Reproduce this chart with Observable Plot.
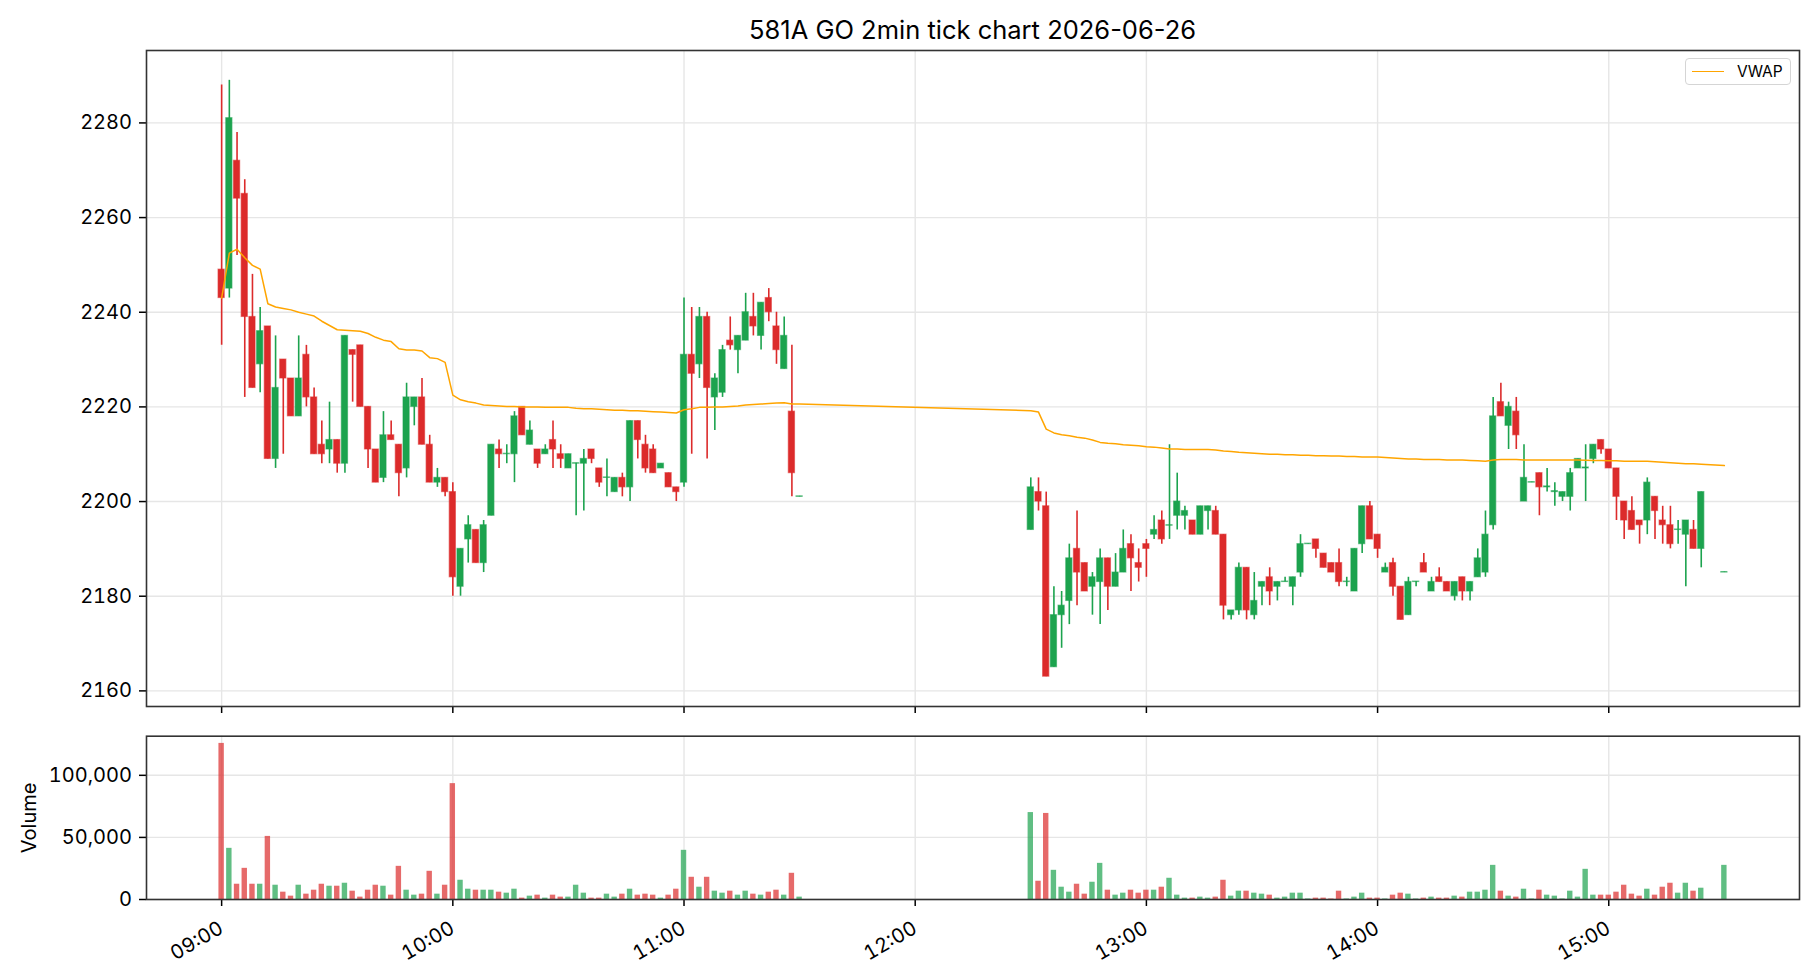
<!DOCTYPE html>
<html><head><meta charset="utf-8">
<script src="https://cdn.jsdelivr.net/npm/d3@7"></script>
<script src="https://cdn.jsdelivr.net/npm/@observablehq/plot@0.6"></script>
<style>
body{margin:0;background:#fff;}
#wrap{position:relative;width:1820px;height:980px;font-family:Inter,"Noto Sans",sans-serif;color:#000;}
#title{position:absolute;left:146px;width:1653px;top:15px;line-height:30px;text-align:center;font-size:25.5px;z-index:2;}
#main{position:absolute;left:0;top:0;}
#vol{position:absolute;left:0;top:720px;}
#legend{position:absolute;left:1685px;top:58px;width:106px;height:27px;box-sizing:border-box;border:1.3px solid #d5d5d5;border-radius:4px;background:rgba(255,255,255,0.85);z-index:2;}
#legend .ln{position:absolute;left:6px;top:12px;width:32px;height:0;border-top:1.6px solid #ffa500;}
#legend .tx{position:absolute;left:51px;top:0;line-height:25px;font-size:15.5px;}
</style></head>
<body>
<div id="wrap">
  <div id="title">581A GO 2min tick chart 2026-06-26</div>
  <div id="main"></div>
  <div id="vol"></div>
  <div id="legend"><div class="ln"></div><div class="tx">VWAP</div></div>
</div>
<script>
// ---- data ----
const times = [
"09:00","09:02","09:04","09:06","09:08","09:10","09:12","09:14","09:16","09:18","09:20","09:22","09:24","09:26","09:28","09:30","09:32","09:34","09:36","09:38","09:40","09:42","09:44","09:46","09:48","09:50","09:52","09:54","09:56","09:58",
"10:00","10:02","10:04","10:06","10:08","10:10","10:12","10:14","10:16","10:18","10:20","10:22","10:24","10:26","10:28","10:30","10:32","10:34","10:36","10:38","10:40","10:42","10:44","10:46","10:48","10:50","10:52","10:54","10:56","10:58",
"11:00","11:02","11:04","11:06","11:08","11:10","11:12","11:14","11:16","11:18","11:20","11:22","11:24","11:26","11:28","11:30",
"12:30","12:32","12:34","12:36","12:38","12:40","12:42","12:44","12:46","12:48","12:50","12:52","12:54","12:56","12:58",
"13:00","13:02","13:04","13:06","13:08","13:10","13:12","13:14","13:16","13:18","13:20","13:22","13:24","13:26","13:28","13:30","13:32","13:34","13:36","13:38","13:40","13:42","13:44","13:46","13:48","13:50","13:52","13:54","13:56","13:58",
"14:00","14:02","14:04","14:06","14:08","14:10","14:12","14:14","14:16","14:18","14:20","14:22","14:24","14:26","14:28","14:30","14:32","14:34","14:36","14:38","14:40","14:42","14:44","14:46","14:48","14:50","14:52","14:54","14:56","14:58",
"15:00","15:02","15:04","15:06","15:08","15:10","15:12","15:14","15:16","15:18","15:20","15:22","15:24","15:30"];

const open = [
2249,2245,2272,2265,2239,2229,2237,2209,2230,2226,2218,2231,2222,2212,2211,2213,2208,2232,2233,2220,2211,2205,2214,2212,2207,2220,2222,2212,2204,2205,
2202,2182,2192,2194,2187,2197,2211,2210,2210,2220,2212,2211,2210,2213,2210,2207,2208,2208,2211,2207,2205,2202,2205,2203,2217,2212,2211,2207,2206,2203,
2204,2231,2229,2239,2222,2223,2234,2232,2234,2239,2235,2243,2237,2228,2219,2201,
2194,2202,2199,2165,2176,2179,2190,2187,2182,2183,2188,2182,2185,2191,2187,
2191,2193,2196,2194.9,2197,2197,2196,2193,2198,2198,2193,2176,2177,2186,2176,2182,2184,2182,2183,2182,2185,2191,2192,2189,2187,2187,2183,2181,2191,2199,
2193,2185,2187,2182,2176,2183,2187,2181,2184,2183,2180,2184,2181,2184,2185,2195,2221,2216,2219,2200,2204,2206,2203,2202,2201,2201,2207,2207,2209,2213,
2211,2207,2200,2198,2196,2196,2201,2196,2195,2194,2193,2194,2190,2185];

const high = [
2288,2289,2278,2268,2248,2241,2237,2235,2230,2226,2235,2233,2224,2217,2221,2213,2235,2232,2233,2220,2211,2219,2217,2212,2225,2222,2226,2214,2207,2205,
2204,2190,2197,2194,2196,2212,2213,2212,2219,2220,2217,2211,2212,2217,2212,2210,2208.1,2211,2211,2207,2209,2205,2206,2217,2217,2214,2212,2208,2206,2203,
2243,2241,2241,2240,2227,2233,2239,2235,2244,2244,2242,2245,2240,2239,2233,2201.1,
2205,2205,2202,2182,2181,2191,2198,2187,2185,2190,2188,2189,2194,2193,2190,
2192,2197,2198,2212,2206,2199,2196,2199,2199,2199,2193,2177,2187,2186,2185,2183,2186,2183,2184,2184,2193,2191.1,2192,2189,2187,2190,2184,2190,2199,2200,
2193,2187,2188,2182,2184,2183.1,2189,2184,2186,2183,2183,2184,2183,2190,2198,2222,2225,2221,2222,2212,2204.1,2206,2207,2204,2202,2207,2209,2212,2212,2213,
2211,2207,2200,2201,2196,2205,2201,2199,2199,2196,2196,2196,2202,2185.1];

const low = [
2233,2243,2252,2222,2224,2223,2209,2207,2210,2218,2218,2220,2210,2208,2208,2206,2206,2221,2220,2207,2204,2204,2213,2201,2205,2216,2212,2204,2203,2201,
2180,2180,2187,2187,2185,2197,2207,2208,2204,2214,2212,2207,2210,2207,2207,2207,2197,2198,2208,2203,2201,2202,2201,2200,2209,2206,2206,2207,2203,2200,
2203,2210,2226,2209,2215,2222,2232,2227,2234,2235,2232,2238,2229,2228,2201,2201,
2194,2198,2163,2165,2169,2174,2178,2181,2176,2174,2177,2182,2185,2181,2183,
2184,2192,2191,2192,2194,2194,2193,2193,2194,2193,2175,2175,2176,2175,2175,2178,2178,2179,2183,2178,2184,2191,2188,2186,2185,2182,2182,2181,2189,2192,
2188,2185,2180,2175,2176,2182,2185,2181,2183,2181,2179,2179,2179,2184,2184,2194,2218,2211,2211,2200,2204,2197,2202,2199,2200,2198,2207,2200,2208,2210,
2207,2196,2192,2194,2191,2193,2192,2191,2190,2191,2182,2190,2186,2185];

const close = [
2243,2281,2264,2239,2224,2236,2209,2224,2226,2218,2226,2222,2210,2210,2213,2208,2235,2231,2220,2211,2204,2214,2213,2206,2222,2222,2212,2204,2205,2202,
2184,2190,2195,2187,2195,2212,2210,2210.1,2218,2214,2215,2208,2211,2211,2209,2210,2208.1,2209,2209,2204,2205.1,2205,2203,2217,2213,2207,2206,2208,2203,2202,
2231,2227,2239,2224,2226,2232,2233,2235,2240,2237,2242,2240,2232,2235,2206,2201.1,
2203,2200,2163,2176,2178,2188,2185,2181,2184,2188,2182,2185,2190,2188,2186,
2190,2194,2192,2195,2200,2198,2193,2199,2199,2193,2178,2177,2186,2177,2179,2183,2181,2183,2183.1,2184,2191,2191.1,2190,2186,2185,2183,2183.1,2190,2199,2192,
2190,2186,2182,2175,2183,2183.1,2185,2183,2183,2181,2183,2181,2183,2188,2193,2218,2218,2220,2214,2205,2204.1,2203,2203.2,2202.2,2202,2206,2209,2207.2,2212,2211,
2207,2201,2196,2194,2195,2204,2198,2195,2191,2194.1,2196,2190,2202,2185.1];

const volume = [
125700,41200,12300,25100,12300,12300,50800,11500,5900,2700,11500,4300,7500,12300,10700,10700,13100,6700,1900,7500,11500,10700,3500,26700,7500,3500,4300,22700,4300,11500,
93300,15500,8300,7500,7500,7500,5900,5100,8300,1100,2700,3500,1100,3500,1900,1900,11500,5100,1100,1100,4300,1900,4300,8300,3500,4300,3500,1100,3500,8300,
39600,17900,9900,17900,6700,5100,6700,3500,6700,4300,3500,5900,7500,3500,21100,1900,
70000,14700,69300,23500,9900,5900,12300,4300,13900,29100,7500,3500,5100,7500,5100,
7500,7500,9900,17100,3500,1100,1100,1900,1100,1900,15500,2700,6700,6700,5100,4300,3500,1100,1900,5100,5100,400,1100,1100,400,6700,400,1900,5100,1100,
1100,400,3500,5100,4300,400,1100,1900,1100,1100,2700,1900,5900,5900,7500,27500,6700,2700,1900,8300,400,7500,3500,2700,400,6700,1900,24300,3500,3500,
3500,5900,11500,4300,2700,8300,3500,9900,13100,5100,13100,6700,9100,27500];

const vwap = [
2243.0,2252.5,2253.3,2251.5,2249.9,2249.1,2241.8,2241.1,2240.8,2240.5,2240.0,2239.6,2239.2,2238.1,2237.2,2236.3,2236.2,2236.1,2236.0,2235.5,2234.7,2234.1,2233.8,2232.3,2232.0,2232.0,2231.8,2230.4,2230.2,2229.4,
2222.5,2221.5,2221.1,2220.8,2220.4,2220.3,2220.2,2220.1,2220.1,2220.0,2220.0,2220.0,2219.9,2219.9,2219.9,2219.9,2219.7,2219.6,2219.6,2219.5,2219.4,2219.3,2219.3,2219.2,2219.2,2219.1,2219.0,2218.9,2218.8,2218.7,
2219.4,2219.6,2219.9,2219.9,2220.0,2220.0,2220.1,2220.2,2220.4,2220.5,2220.6,2220.7,2220.8,2220.9,2220.6,2220.6,
2219.2,2218.9,2215.3,2214.5,2214.1,2213.9,2213.6,2213.4,2213.0,2212.5,2212.3,2212.2,2212.0,2211.9,2211.8,
2211.6,2211.5,2211.3,2211.1,2211.1,2211.0,2211.0,2211.0,2211.0,2210.9,2210.7,2210.6,2210.4,2210.3,2210.2,2210.1,2210.0,2210.0,2209.9,2209.9,2209.8,2209.8,2209.7,2209.7,2209.6,2209.6,2209.5,2209.5,2209.4,2209.4,
2209.4,2209.3,2209.2,2209.1,2209.0,2209.0,2208.9,2208.9,2208.9,2208.8,2208.8,2208.8,2208.7,2208.6,2208.5,2208.8,2208.9,2208.9,2208.9,2208.8,2208.8,2208.8,2208.8,2208.8,2208.8,2208.8,2208.8,2208.75,2208.7,2208.7,
2208.6,2208.6,2208.5,2208.5,2208.5,2208.5,2208.4,2208.3,2208.2,2208.1,2208.0,2208.0,2207.9,2207.6];

const hourLabels = ["09:00","10:00","11:00","12:00","13:00","14:00","15:00"];
const priceTicks = [2160,2180,2200,2220,2240,2260,2280];
const volumeTicks = [0,50000,100000];

// ---- build ----
const lens = [open,high,low,close,volume,vwap].map(a => a.length);
if (lens.some(n => n !== times.length)) throw new Error("length mismatch " + times.length + " " + lens.join(","));

const toDate = (s, sec = 0) => { const [h, m] = s.split(":").map(Number); return new Date(Date.UTC(2026, 5, 26, h, m, sec)); };
const rows = times.map((s, i) => ({t: toDate(s), o: open[i], h: high[i], l: low[i], c: close[i], v: volume[i], w: vwap[i], up: close[i] >= open[i]}));
const green = "#1ca34e", red = "#dc2b2b";
const col = d => d.up ? green : red;
const xDomain = [toDate("08:40", 30), toDate("15:49", 30)];
const hourTicks = hourLabels.map(s => toDate(s));
const fontFamily = 'Inter, "Noto Sans", sans-serif';
const FS = 20;
const gridStyle = {stroke: "#e6e6e6", strokeOpacity: 1, strokeWidth: 1.4};

const mainPlot = Plot.plot({
  width: 1820, height: 720,
  marginLeft: 146, marginRight: 21, marginTop: 50, marginBottom: 14,
  style: {fontFamily, fontSize: FS + "px", color: "#000", background: "transparent"},
  x: {type: "utc", domain: xDomain},
  y: {domain: [2156.7, 2295.3]},
  color: {type: "identity"},
  marks: [
    Plot.gridX(hourTicks, gridStyle),
    Plot.gridY(priceTicks, gridStyle),
    Plot.ruleX(rows, {x: "t", y1: "l", y2: "h", stroke: col, strokeWidth: 1.6}),
    Plot.rect(rows, {x1: d => new Date(+d.t - 48000), x2: d => new Date(+d.t + 48000), y1: "o", y2: "c",
      fill: col, stroke: col, strokeOpacity: 0.55, strokeWidth: 1.2}),
    Plot.line(rows, {x: "t", y: "w", stroke: "#ffa500", strokeWidth: 1.5}),
    Plot.axisY(priceTicks, {tickSize: 7, tickPadding: 7.5, tickFormat: d => String(d), label: null, fontSize: FS, strokeWidth: 1.5}),
    Plot.axisX(hourTicks, {tickSize: 7, tickFormat: () => "", label: null, strokeWidth: 1.5}),
    Plot.frame({stroke: "#333", strokeWidth: 1.6})
  ]
});
document.getElementById("main").append(mainPlot);

const volPlot = Plot.plot({
  width: 1820, height: 260,
  marginLeft: 146, marginRight: 21, marginTop: 15.7, marginBottom: 81,
  style: {fontFamily, fontSize: FS + "px", color: "#000", background: "transparent"},
  x: {type: "utc", domain: xDomain},
  y: {domain: [0, 131500]},
  color: {type: "identity"},
  marks: [
    Plot.gridX(hourTicks, gridStyle),
    Plot.gridY(volumeTicks, gridStyle),
    Plot.rect(rows, {x1: d => new Date(+d.t - 42000), x2: d => new Date(+d.t + 42000), y1: 0, y2: "v",
      fill: col, fillOpacity: 0.7}),
    Plot.axisY(volumeTicks, {tickSize: 7, tickPadding: 7.5, tickFormat: d3.format(","), label: null, fontSize: FS, strokeWidth: 1.5}),
    Plot.axisX(hourTicks, {tickSize: 7, tickPadding: 20, tickRotate: -30, tickFormat: d3.utcFormat("%H:%M"), label: null, fontSize: FS, strokeWidth: 1.5}),
    Plot.text(["Volume"], {frameAnchor: "left", dx: -117, rotate: -90, textAnchor: "middle", text: d => d, fontSize: FS}),
    Plot.frame({stroke: "#333", strokeWidth: 1.6})
  ]
});
document.getElementById("vol").append(volPlot);
</script>
</body></html>
